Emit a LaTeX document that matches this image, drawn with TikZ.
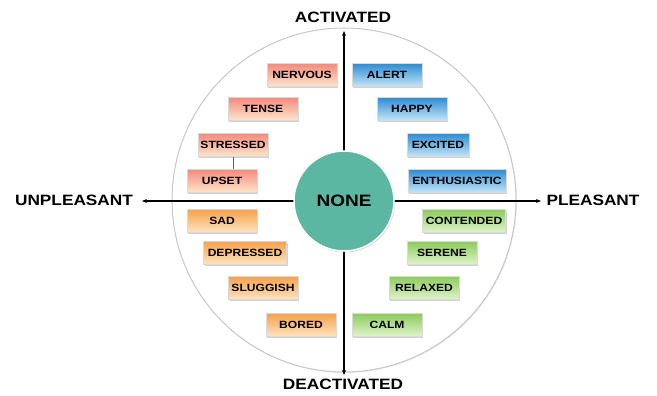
\documentclass[tikz,border=0pt]{standalone}
\usepackage{fontspec}
\setmainfont{Liberation Sans}[FakeStretch=1.15]
\usetikzlibrary{shadows,arrows.meta}
\definecolor{redtop}{HTML}{F58A7C}
\definecolor{redbot}{HTML}{FDE6CC}
\definecolor{bluetop}{HTML}{2F8CD2}
\definecolor{bluebot}{HTML}{C4E6F8}
\definecolor{orgtop}{HTML}{F5A24C}
\definecolor{orgbot}{HTML}{FDE4C2}
\definecolor{grntop}{HTML}{8DCC5C}
\definecolor{grnbot}{HTML}{E0F3CC}
\definecolor{teal}{HTML}{5BB6A2}
\tikzset{
  x=1pt, y=-1pt,
  mood/.style={rectangle, minimum height=23pt, minimum width=70pt, inner sep=0pt,
    draw=white!85!black, line width=0.4pt, shading=axis,
    font=\fontsize{10.5}{12}\selectfont\bfseries, text=black,
    drop shadow={opacity=0.35, shadow xshift=1.2pt, shadow yshift=-1.6pt}},
  redbox/.style={mood, top color=redtop, bottom color=redbot},
  bluebox/.style={mood, top color=bluetop, bottom color=bluebot},
  orgbox/.style={mood, top color=orgtop, bottom color=orgbot},
  grnbox/.style={mood, top color=grntop, bottom color=grnbot},
  axislabel/.style={font=\fontsize{15}{17}\selectfont\bfseries, text=black},
  axisline/.style={line width=1.1pt, -{Stealth[length=5pt,width=4pt]}},
}
\begin{document}
\begin{tikzpicture}
\useasboundingbox (0,0) rectangle (657,396);

% outer disc
\node[circle, minimum size=344pt, fill=white, draw=black!22, line width=1pt,
      drop shadow={opacity=0.15, shadow xshift=1pt, shadow yshift=-1pt}] (disc) at (344,200) {};

% axes from the centre outwards
\coordinate (c) at (344,201);
\coordinate (top) at (344,31);
\coordinate (bot) at (344,375);
\coordinate (lft) at (142,201);
\coordinate (rgt) at (541,201);
\draw[axisline] (c) -- (top);
\draw[axisline] (c) -- (bot);
\draw[axisline] (c) -- (lft);
\draw[axisline] (c) -- (rgt);

\node[circle, minimum size=100pt, fill=teal, draw=white, line width=1.5pt,
      drop shadow={opacity=0.3, shadow xshift=1pt, shadow yshift=-1.5pt},
      font=\fontsize{16.5}{18}\selectfont\bfseries] (none) at (344,201) {NONE};

% axis labels
\node[axislabel] (act) at (343,17) {ACTIVATED};
\node[axislabel] (deact) at (343,384) {DEACTIVATED};
\node[axislabel] (unp) at (74,200) {UNPLEASANT};
\node[axislabel] (pls) at (593,200) {PLEASANT};

% upper left quadrant
\node[redbox] (nervous) at (302,75) {NERVOUS};
\node[redbox] (tense) at (263,109) {TENSE};
\node[redbox] (stressed) at (233,145) {STRESSED};
\draw[black!60, line width=0.6pt] (stressed.south) -- ++(0,19) coordinate (lk);
\node[redbox] (upset) at (222,181) {UPSET};

% upper right quadrant
\node[bluebox] (alert) at (387,75) {ALERT};
\node[bluebox] (happy) at (412,109) {HAPPY};
\node[bluebox, minimum width=62pt] (excited) at (438,145) {EXCITED};
\node[bluebox, minimum width=98pt] (enth) at (457,181) {ENTHUSIASTIC};

% lower left quadrant
\node[orgbox] (sad) at (222,221) {SAD};
\node[orgbox, minimum width=83pt] (depressed) at (245,253) {DEPRESSED};
\node[orgbox] (sluggish) at (263,288) {SLUGGISH};
\node[orgbox] (bored) at (301,325) {BORED};

% lower right quadrant
\node[grnbox, minimum width=83pt] (contended) at (464,221) {CONTENDED};
\node[grnbox] (serene) at (442,253) {SERENE};
\node[grnbox] (relaxed) at (424,288) {RELAXED};
\node[grnbox] (calm) at (387,325) {CALM};
\end{tikzpicture}
\end{document}
